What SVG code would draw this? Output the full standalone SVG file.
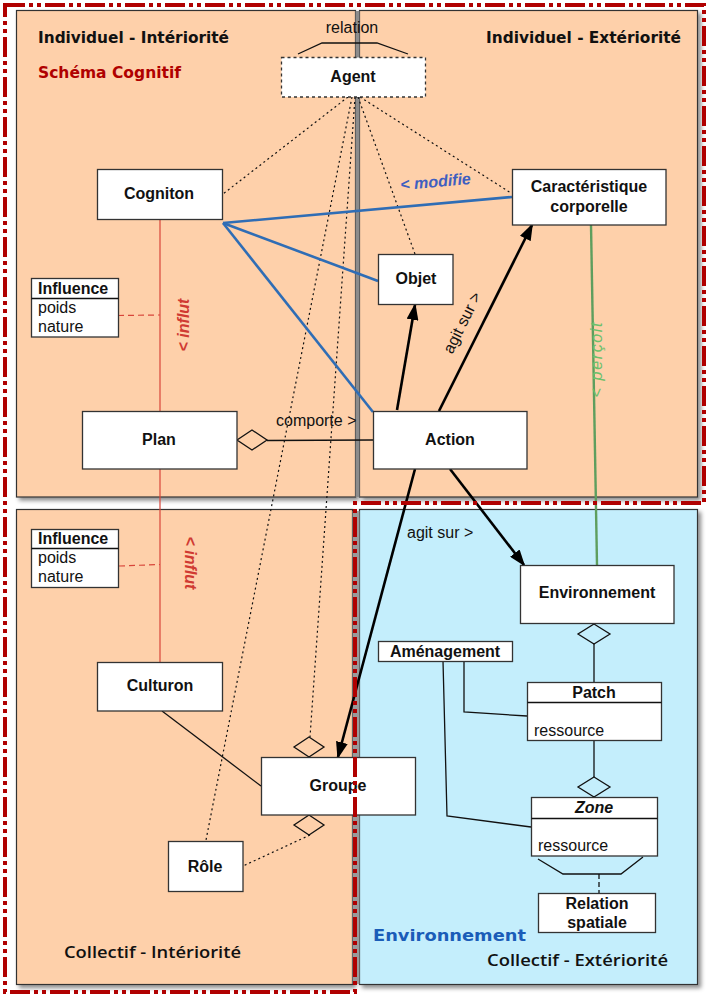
<svg xmlns="http://www.w3.org/2000/svg" width="713" height="1006" viewBox="0 0 713 1006">
<defs>
<style>
.panel{stroke:#333;stroke-width:1.2}
.peach{fill:#FED0AA}
.blue{fill:#C4EEFC}
.node{fill:#fff;stroke:#333;stroke-width:1.3}
.nt{font-family:"Liberation Sans",Arial,sans-serif;font-size:16px;font-weight:bold;fill:#111;text-anchor:middle}
.at{font-family:"Liberation Sans",Arial,sans-serif;font-size:16px;fill:#111}
.title{font-family:"DejaVu Sans",sans-serif;font-size:16px;font-weight:bold;fill:#111}
.title2{font-family:"Open Sans","DejaVu Sans",sans-serif;font-size:16px;font-weight:600;fill:#111}
.dot{fill:none;stroke:#111;stroke-width:1.2;stroke-dasharray:2 3}
.ln{fill:none;stroke:#111;stroke-width:1.3}
.arr{fill:none;stroke:#000;stroke-width:2.6}
.bl{fill:none;stroke:#2F6DB5;stroke-width:2.6}
.red{fill:none;stroke:#D8453A;stroke-width:1.2}
.redd{fill:none;stroke:#D8453A;stroke-width:1.2;stroke-dasharray:6 4}
.dia{fill:none;stroke:#111;stroke-width:1.3}
</style>
<filter id="sh" x="-5%" y="-5%" width="115%" height="115%">
<feDropShadow dx="3" dy="3" stdDeviation="2" flood-color="#000" flood-opacity="0.45"/>
</filter>
<marker id="ah" markerUnits="userSpaceOnUse" markerWidth="17" markerHeight="12" refX="15" refY="6" orient="auto">
<path d="M0,0 L17,6 L0,12 Z" fill="#000"/>
</marker>
</defs>

<g id="panels">
<rect class="panel peach" x="16.5" y="10.5" width="339" height="486.5" filter="url(#sh)"/>
<rect class="panel peach" x="359.5" y="10.5" width="338" height="486.5" filter="url(#sh)"/>
<rect class="panel peach" x="16.5" y="509.5" width="336" height="475" filter="url(#sh)"/>
<rect class="panel blue" x="359.5" y="509.5" width="338" height="475" filter="url(#sh)"/>
<rect x="355.5" y="11" width="4" height="486" fill="#8c8c8c"/>
<rect x="352.5" y="511" width="7" height="473" fill="#9a9a9a"/>
</g>

<g id="labels">
<text class="title" x="38" y="43" textLength="191" lengthAdjust="spacingAndGlyphs">Individuel - Intériorité</text>
<text class="title" x="38" y="78" textLength="143" lengthAdjust="spacingAndGlyphs" style="fill:#B00000">Schéma Cognitif</text>
<text class="title" x="486" y="43" textLength="195" lengthAdjust="spacingAndGlyphs">Individuel - Extériorité</text>
<text class="title2" x="64" y="958" textLength="177" lengthAdjust="spacingAndGlyphs">Collectif - Intériorité</text>
<text class="title2" x="487" y="966" textLength="181" lengthAdjust="spacingAndGlyphs">Collectif - Extériorité</text>
<text class="title" x="373" y="941" textLength="153" lengthAdjust="spacingAndGlyphs" style="fill:#1A5CB8">Environnement</text>
</g>

<g id="connectors">
<!-- relation arc -->
<polyline class="ln" points="298,54 322,43 377,43 408,54"/>
<text class="at" x="352" y="33" text-anchor="middle">relation</text>
<!-- dotted from Agent -->
<line class="dot" x1="348" y1="97" x2="223" y2="194"/>
<line class="dot" x1="352" y1="97" x2="206" y2="840"/>
<line class="dot" x1="355" y1="97" x2="310" y2="737"/>
<line class="dot" x1="358" y1="97" x2="415" y2="254"/>
<line class="dot" x1="360" y1="97" x2="511" y2="193"/>
<!-- blue modifie -->
<line class="bl" x1="223" y1="223" x2="512" y2="197"/>
<line class="bl" x1="223" y1="223" x2="378" y2="281"/>
<line class="bl" x1="223" y1="223" x2="373" y2="412"/>
<text transform="translate(436,187) rotate(-5)" text-anchor="middle" style="font-family:'Liberation Sans',Arial,sans-serif;font-size:16px;font-weight:bold;font-style:italic;fill:#3F5FC0">&lt; modifie</text>
<!-- red influt -->
<line class="red" x1="160" y1="219" x2="160" y2="411"/>
<line class="red" x1="160" y1="469" x2="160" y2="662"/>
<line class="redd" x1="118" y1="315.5" x2="160" y2="315"/>
<line class="redd" x1="119" y1="566" x2="160" y2="564.5"/>
<text transform="translate(189,325) rotate(-90)" text-anchor="middle" style="font-family:'Liberation Sans',Arial,sans-serif;font-size:16px;font-weight:bold;font-style:italic;fill:#D03A32">&lt; influt</text>
<text transform="translate(184.5,563) rotate(90)" text-anchor="middle" style="font-family:'Liberation Sans',Arial,sans-serif;font-size:16px;font-weight:bold;font-style:italic;fill:#D03A32">&lt; influt</text>
<!-- green percoit -->
<line x1="591" y1="225" x2="597" y2="565" stroke="#5E9E5E" stroke-width="2.4"/>
<text transform="translate(602,360) rotate(-90)" text-anchor="middle" textLength="75" style="font-family:'Liberation Sans',Arial,sans-serif;font-size:16px;font-style:italic;fill:#6CC06C">&lt; perçoit</text>
<!-- comporte -->
<polygon class="dia" points="237,440 252,430 267,440 252,450"/>
<line class="ln" x1="267" y1="440.5" x2="373" y2="440"/>
<text class="at" x="276" y="426">comporte &gt;</text>
<!-- arrows -->
<line class="arr" x1="397" y1="410" x2="415" y2="305" marker-end="url(#ah)"/>
<line class="arr" x1="439" y1="411" x2="532" y2="225" marker-end="url(#ah)"/>
<text class="at" transform="translate(467,325) rotate(-63.7)" text-anchor="middle">agit sur &gt;</text>
<line class="arr" x1="415" y1="469" x2="338" y2="757" marker-end="url(#ah)"/>
<line class="arr" x1="450" y1="469" x2="524" y2="565" marker-end="url(#ah)"/>
<text class="at" x="407" y="538">agit sur &gt;</text>
<!-- Groupe -->
<line class="ln" x1="162" y1="711" x2="261" y2="786"/>
<polygon class="dia" points="309,737 324,747 309,757 294,747"/>
<polygon class="dia" points="309,815 324,825 309,835 294,825"/>
<line class="dot" x1="310" y1="835" x2="243" y2="866"/>
<!-- environment -->
<polygon class="dia" points="594,624 610,634 594,644 578,634"/>
<line class="ln" x1="594" y1="644" x2="594" y2="682"/>
<line class="ln" x1="594" y1="740" x2="594" y2="777"/>
<polygon class="dia" points="594,777 610,787 594,797 578,787"/>
<polyline class="ln" points="464,661 464,712 527,716"/>
<polyline class="ln" points="443,661 447,816 531,827"/>
<polyline class="ln" points="538,859 563,874 621,874 643,857"/>
<line class="ln" x1="599" y1="874" x2="599" y2="893" stroke-dasharray="5 3"/>
</g>

<g id="agent">
<rect x="281.5" y="57.5" width="144" height="39.5" fill="#fff" stroke="#333" stroke-width="1.3" stroke-dasharray="3 3"/>
<text class="nt" x="353" y="82">Agent</text>
</g>
<g id="cogniton">
<rect class="node" x="97.5" y="169.5" width="125" height="50"/>
<text class="nt" x="159" y="199">Cogniton</text>
</g>
<g id="influence1">
<rect class="node" x="31.5" y="278.5" width="87" height="58.5"/>
<line class="ln" x1="31.5" y1="298.5" x2="118.5" y2="298.5"/>
<text class="nt" x="38" y="294" style="text-anchor:start">Influence</text>
<text class="at" x="38" y="313">poids</text>
<text class="at" x="38" y="332">nature</text>
</g>
<g id="plan">
<rect class="node" x="82.5" y="411.5" width="154.5" height="57.5"/>
<text class="nt" x="159" y="445">Plan</text>
</g>
<g id="objet">
<rect class="node" x="378.5" y="254.5" width="74.5" height="50"/>
<text class="nt" x="416" y="284">Objet</text>
</g>
<g id="caracteristique">
<rect class="node" x="512.5" y="169.5" width="153.5" height="55.5"/>
<text class="nt" x="589" y="192">Caractéristique</text>
<text class="nt" x="589" y="212">corporelle</text>
</g>
<g id="action">
<rect class="node" x="373.5" y="411.5" width="153.5" height="57.5"/>
<text class="nt" x="450" y="445">Action</text>
</g>
<g id="influence2">
<rect class="node" x="31.5" y="529.5" width="87" height="58"/>
<line class="ln" x1="31.5" y1="548.5" x2="118.5" y2="548.5"/>
<text class="nt" x="38" y="544" style="text-anchor:start">Influence</text>
<text class="at" x="38" y="563">poids</text>
<text class="at" x="38" y="582">nature</text>
</g>
<g id="culturon">
<rect class="node" x="97.5" y="662.5" width="125" height="48.5"/>
<text class="nt" x="160" y="691">Culturon</text>
</g>
<g id="groupe">
<rect class="node" x="261.5" y="757.5" width="154" height="57.5"/>
<text class="nt" x="338" y="791">Groupe</text>
</g>
<g id="role">
<rect class="node" x="168.5" y="841.5" width="74.5" height="50"/>
<text class="nt" x="205" y="872">Rôle</text>
</g>
<g id="environnement">
<rect class="node" x="520.5" y="565.5" width="153.5" height="58"/>
<text class="nt" x="597" y="598">Environnement</text>
</g>
<g id="amenagement">
<rect class="node" x="378.5" y="641.5" width="134" height="20"/>
<text class="nt" x="445" y="657">Aménagement</text>
</g>
<g id="patch">
<rect class="node" x="527.5" y="682.5" width="134" height="58"/>
<line class="ln" x1="527.5" y1="702.5" x2="661.5" y2="702.5"/>
<text class="nt" x="594" y="698">Patch</text>
<text class="at" x="534" y="736">ressource</text>
</g>
<g id="zone">
<rect class="node" x="531.5" y="797.5" width="126" height="58.5"/>
<line class="ln" x1="531.5" y1="818.5" x2="657.5" y2="818.5"/>
<text class="nt" x="594" y="813" style="font-style:italic">Zone</text>
<text class="at" x="538" y="851">ressource</text>
</g>
<g id="relation-spatiale">
<rect class="node" x="538.5" y="893.5" width="117" height="39"/>
<text class="nt" x="597" y="909">Relation</text>
<text class="nt" x="597" y="928">spatiale</text>
</g>

<g id="border">
<path d="M5,5 H704 V503 H355 V992 H5 Z" fill="none" stroke="#B00000" stroke-width="4" stroke-dasharray="20 4 4 4 4 4"/>
</g>
</svg>
